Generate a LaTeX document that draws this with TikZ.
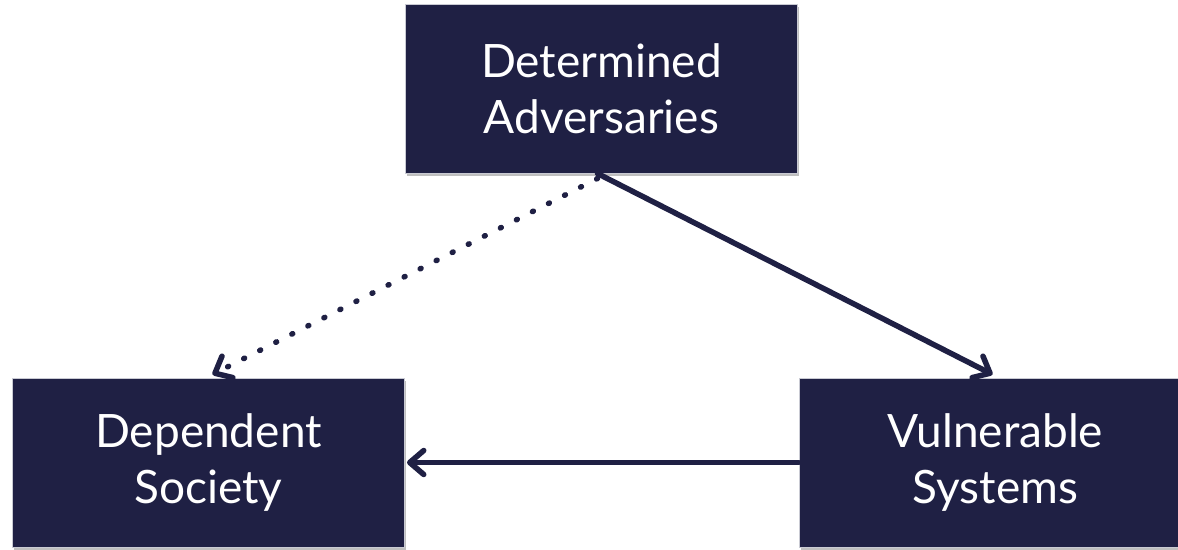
\documentclass[tikz,border=0pt]{standalone}
\usepackage{fontspec}
\setmainfont{Lato}
\usetikzlibrary{arrows.meta,shadows}
\definecolor{navy}{HTML}{1F2044}
\definecolor{rim}{HTML}{C9CAD3}
\tikzset{
  box/.style={rectangle, fill=navy, draw=rim, line width=1pt,
    minimum width=392pt, minimum height=169pt, inner sep=0pt,
    text=white, align=center, font=\fontsize{46}{56}\selectfont,
    drop shadow={shadow xshift=1.5pt, shadow yshift=-2.5pt, opacity=0.25, fill=black}},
  link/.style={draw=navy, line width=5.5pt, line cap=round, line join=round,
    -{Straight Barb[length=14pt, width=24pt, line cap=round, line join=round]}},
  dotlink/.style={link, dash pattern=on 1pt off 17pt}
}
\begin{document}
\begin{tikzpicture}[x=1pt, y=-1pt]
  \useasboundingbox (0,0) rectangle (1178,549);
  \clip (0,0) rectangle (1178,549);
  \node[box] (adv) at (601.5,88.5) {Determined\\Adversaries};
  \node[box] (soc) at (208.5,462.5) {Dependent\\Society};
  \node[box] (sys) at (995.5,462.5) {Vulnerable\\Systems};
  \draw[dotlink] ([xshift=-4pt,yshift=-5pt]adv.south) -- ([xshift=4pt,yshift=3pt]soc.north);
  \draw[link] ([xshift=-4pt]adv.south) -- ([xshift=-3pt,yshift=3pt]sys.north);
  \draw[link] (sys.west) -- ([xshift=2pt]soc.east);
\end{tikzpicture}
\end{document}
